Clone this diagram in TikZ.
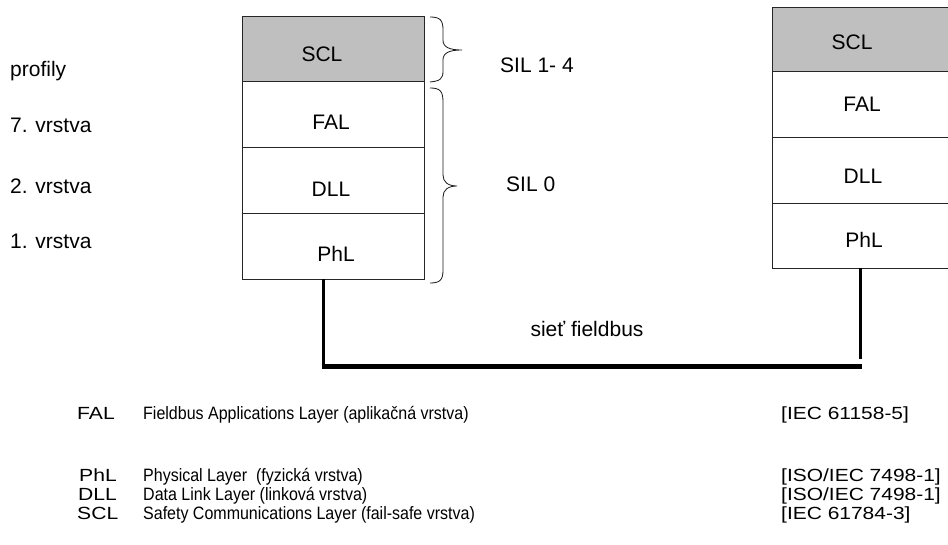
\documentclass[tikz,border=0pt]{standalone}
\usepackage{graphicx}
\usepackage{fontspec}
\setmainfont{Liberation Sans}
\newcommand\legab[1]{\scalebox{1.32}[1.1]{#1}}
\newcommand\legds[1]{\scalebox{1}[1.12]{#1}}
\newcommand\legrf[1]{\scalebox{1.31}[1.1]{#1}}
\begin{document}
\begin{tikzpicture}[x=1pt,y=-1pt,
  lay/.style={draw=black!85, line width=0.9pt, inner sep=0pt, outer sep=0pt, minimum width=#1},
  lay/.default=182pt,
  safe/.style={fill=black!25},
  lbl/.style={font=\fontsize{21}{25}\selectfont, anchor=base, inner sep=0pt},
  side/.style={font=\fontsize{21}{25}\selectfont, anchor=base west, inner sep=0pt},
  leg/.style={font=\fontsize{16}{19}\selectfont, anchor=base west, inner sep=0pt},
  bus/.style={line width=3pt},
  busmain/.style={line width=5pt},
  brc/.style={line width=0.8pt, black!90}]
\useasboundingbox (0,0) rectangle (948,545);

% left stack
\node[lay, safe, minimum height=65pt] (scl1) at (333,48.5) {};
\node[lay, minimum height=66pt] (fal1) at (333,114) {};
\node[lay, minimum height=66pt] (dll1) at (333,180) {};
\node[lay, minimum height=66pt] (phl1) at (333,246) {};
\node[lbl] (tscl1) at (322,62) {SCL};
\node[lbl] (tfal1) at (331,130) {FAL};
\node[lbl] (tdll1) at (331,197) {DLL};
\node[lbl] (tphl1) at (336,262) {PhL};

% right stack (cut by the page edge)
\begin{scope}
\clip (0,0) rectangle (948,545);
\node[lay=186pt, safe, minimum height=64pt] (scl2) at (865,39) {};
\node[lay=186pt, minimum height=66pt] (fal2) at (865,104) {};
\node[lay=186pt, minimum height=66pt] (dll2) at (865,170) {};
\node[lay=186pt, minimum height=65pt] (phl2) at (865,235.5) {};
\end{scope}
\node[lbl] (tscl2) at (852,50) {SCL};
\node[lbl] (tfal2) at (862,112) {FAL};
\node[lbl] (tdll2) at (863,184) {DLL};
\node[lbl] (tphl2) at (864,248) {PhL};

% fieldbus
\coordinate (tapL) at ([xshift=-10pt]phl1.south);
\coordinate (tapR) at ([xshift=-5pt]phl2.south);
\coordinate (cL) at (323,366);
\coordinate (cR) at (860,366);
\draw[bus] (tapL) -- ([yshift=2pt]cL);
\draw[busmain] ([xshift=-1.5pt]cL) -- ([xshift=1.5pt]cR);
\draw[bus] (tapR) -- ([yshift=7pt]cR);
\node[lbl] (bus) at (587,337) {sieť fieldbus};

% braces
\draw[brc] (430,17) .. controls (440,17) and (443,20) .. (443,30) -- (443,40)
  .. controls (443,47) and (449,50) .. (462,50)
  .. controls (449,50) and (443,53) .. (443,60) -- (443,71)
  .. controls (443,79) and (440,81) .. (430,82);
\draw[brc] (430,88) .. controls (440,88) and (443,91) .. (443,102) -- (443,175)
  .. controls (443,182) and (448,186) .. (457,186)
  .. controls (448,186) and (443,190) .. (443,197) -- (443,270)
  .. controls (443,280) and (440,283) .. (430,283);
\node[side] (sil14) at (500,73) {SIL 1- 4};
\node[side] (sil0) at (506,192) {SIL 0};

% left labels
\node[side] (profily) at (10,77) {profily};
\node[side] (v7) at (10,133) {7. vrstva};
\node[side] (v2) at (10,194) {2. vrstva};
\node[side] (v1) at (10,249) {1. vrstva};

% legend
\node[leg] (aFAL) at (77,419) {\legab{FAL}};
\node[leg] (dFAL) at (143,419) {\legds{Fieldbus Applications Layer (aplikačná vrstva)}};
\node[leg] (rFAL) at (781,419) {\legrf{[IEC 61158-5]}};
\node[leg] (aPhL) at (79,481) {\legab{PhL}};
\node[leg] (dPhL) at (143,481) {\legds{Physical Layer\ \ (fyzická vrstva)}};
\node[leg] (rPhL) at (781,481) {\legrf{[ISO/IEC 7498-1]}};
\node[leg] (aDLL) at (78,500) {\legab{DLL}};
\node[leg] (dDLL) at (143,500) {\legds{Data Link Layer (linková vrstva)}};
\node[leg] (rDLL) at (781,500) {\legrf{[ISO/IEC 7498-1]}};
\node[leg] (aSCL) at (77,519) {\legab{SCL}};
\node[leg] (dSCL) at (143,519) {\legds{Safety Communications Layer (fail-safe vrstva)}};
\node[leg] (rSCL) at (781,519) {\legrf{[IEC 61784-3]}};
\end{tikzpicture}
\end{document}
